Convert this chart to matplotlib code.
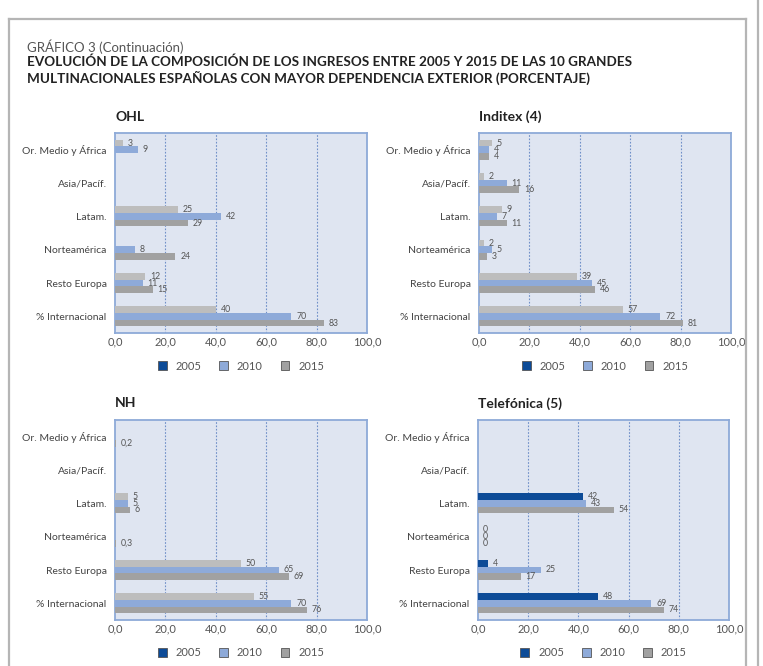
import matplotlib
matplotlib.use("Agg")
import matplotlib.pyplot as plt
from matplotlib.patches import Rectangle
from matplotlib.lines import Line2D
import numpy as np

plt.rcParams['font.family'] = ['Lato', 'DejaVu Sans']

categories = ["Or. Medio y África", "Asia/Pacíf.", "Latam.", "Norteamérica",
              "Resto Europa", "% Internacional"]
years = ["2005", "2010", "2015"]

# values per panel (None = no bar)
ohl_2005 = [3, None, 25, None, 12, 40]
ohl_2010 = [9, None, 42, 8, 11, 70]
ohl_2015 = [None, None, 29, 24, 15, 83]

inditex_2005 = [5, 2, 9, 2, 39, 57]
inditex_2010 = [4, 11, 7, 5, 45, 72]
inditex_2015 = [4, 16, 11, 3, 46, 81]

nh_2005 = [None, None, 5, None, 50, 55]
nh_2010 = [None, None, 5, None, 65, 70]
nh_2015 = [0.2, None, 6, 0.3, 69, 76]

tel_2005 = [None, None, 42, 0, 4, 48]
tel_2010 = [None, None, 43, 0, 25, 69]
tel_2015 = [None, None, 54, 0, 17, 74]

xticks = [0, 20, 40, 60, 80, 100]
xticklabels = ["0,0", "20,0", "40,0", "60,0", "80,0", "100,0"]

W, H = 763, 666
fig = plt.figure(figsize=(W / 100, H / 100), dpi=100)
fig.patch.set_facecolor("white")

def px_rect(l, t, r, b):
    return [l / W, 1 - b / H, (r - l) / W, (b - t) / H]

# outer frame
frame_col = "#b5b5b5"
fig.add_artist(Line2D([9 / W, 746 / W], [1 - 19 / H, 1 - 19 / H], color=frame_col, lw=1.6))
fig.add_artist(Line2D([9 / W, 9 / W], [0, 1 - 19 / H], color=frame_col, lw=1.6))
fig.add_artist(Line2D([746 / W, 746 / W], [0, 1 - 19 / H], color=frame_col, lw=1.6))
fig.add_artist(Line2D([758 / W, 758 / W], [0, 1], color=frame_col, lw=1.6))

fig.text(27 / W, 1 - 47 / H, "GRÁFICO 3 (Continuación)", fontsize=9.5,
         color="#555555", va="center", ha="left")
fig.text(27 / W, 1 - 62 / H,
         "EVOLUCIÓN DE LA COMPOSICIÓN DE LOS INGRESOS ENTRE 2005 Y 2015 DE LAS 10 GRANDES",
         fontsize=9.7, fontweight="bold", color="#222222", va="center", ha="left")
fig.text(27 / W, 1 - 78 / H,
         "MULTINACIONALES ESPAÑOLAS CON MAYOR DEPENDENCIA EXTERIOR (PORCENTAJE)",
         fontsize=9.7, fontweight="bold", color="#222222", va="center", ha="left")

bg = "#dfe5f1"
spine_col = "#8eaad8"
grid_col = "#6f8fc8"
c2010 = "#8eaad9"
c2015 = "#a1a1a1"
c2005_light = "#bdbdbd"
c2005_navy = "#0d4b97"
label_col = "#555555"

panels = [
    ("OHL", ohl_2005, ohl_2010, ohl_2015, c2005_light, (115, 133, 367, 333), 117),
    ("Inditex (4)", inditex_2005, inditex_2010, inditex_2015, c2005_light, (479, 133, 731, 333), 117),
    ("NH", nh_2005, nh_2010, nh_2015, c2005_light, (115, 420, 367, 620), 403),
    ("Telefónica (5)", tel_2005, tel_2010, tel_2015, c2005_navy, (478, 420, 729, 620), 404),
]

bh = 0.2
for title, s05, s10, s15, col05, (l, t, r, b), ty in panels:
    ax = fig.add_axes(px_rect(l, t, r, b))
    ax.set_facecolor(bg)
    y = np.arange(len(categories))
    for series, off, col in [(s05, -bh, col05), (s10, 0, c2010), (s15, bh, c2015)]:
        for yi, v in zip(y, series):
            if v is None:
                continue
            ax.barh(yi + off, v, height=bh, color=col, edgecolor="none", zorder=3)
            txt = (f"{v:g}".replace(".", ",")) if v != int(v) else f"{int(v)}"
            ax.annotate(txt, (v, yi + off), xytext=(3.5, 0), textcoords="offset points",
                        fontsize=6.3, color=label_col, va="center", ha="left", zorder=4)
    ax.set_xlim(0, 100)
    ax.set_ylim(len(categories) - 0.5, -0.5)
    ax.set_yticks(y)
    ax.set_yticklabels(categories, fontsize=7.5, color="#444444")
    ax.set_xticks(xticks)
    ax.set_xticklabels(xticklabels, fontsize=8, color="#555555")
    ax.tick_params(axis="y", length=0, pad=6)
    ax.tick_params(axis="x", length=0, pad=2.5)
    for xv in xticks[1:-1]:
        ax.axvline(xv, color=grid_col, lw=0.8, ls=(0, (1.5, 1.5)), zorder=1)
    for sp in ax.spines.values():
        sp.set_color(spine_col)
        sp.set_linewidth(1.3)
    fig.text(l / W, 1 - ty / H, title, fontsize=10, fontweight="bold",
             color="#222222", va="center", ha="left")
    # legend
    handles = [Rectangle((0, 0), 1, 1, facecolor=c, edgecolor="#555555", lw=0.6)
               for c in (c2005_navy, c2010, c2015)]
    leg = ax.legend(handles, years, loc="center", bbox_to_anchor=(0.5, -0.165),
                    ncol=3, frameon=False, fontsize=8, handlelength=0.8,
                    handleheight=0.8, handletextpad=0.8, columnspacing=1.6)
    for tx in leg.get_texts():
        tx.set_color("#555555")

fig.savefig("out.png", dpi=100)
